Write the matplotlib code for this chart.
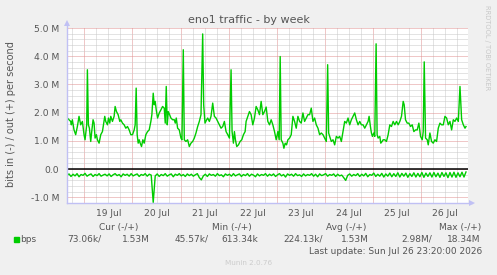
import numpy as np
import pandas as pd
import matplotlib
matplotlib.use('Agg')
import matplotlib.pyplot as plt
from matplotlib.patches import Rectangle

W, H = 497, 275

# hours after 2026-07-18 15:20 and outgoing traffic in Mbit/s
out_hours = [0.17, 1.0, 1.83, 2.17, 2.67, 3.5, 4.33, 5.17, 6.0, 6.83, 7.67, 8.5, 9.0, 9.83, 10.17,
             10.67, 11.17, 11.83, 12.33, 13.0, 13.5, 14.0, 14.67, 15.17, 16.0, 16.83, 17.67, 18.17,
             18.83, 19.33, 20.17, 20.67, 21.33, 21.83, 22.67, 23.5, 24.0, 24.67, 25.5, 26.33, 26.83,
             27.67, 28.5, 29.33, 30.17, 31.0, 31.83, 32.67, 33.5, 34.0, 34.5, 35.0, 35.5, 36.0, 36.5,
             37.17, 37.83, 38.5, 39.33, 40.17, 41.0, 41.83, 42.33, 43.0, 43.5, 44.0, 44.5, 45.17,
             46.0, 46.83, 47.67, 48.5, 49.0, 49.5, 50.0, 50.5, 51.17, 51.83, 52.67, 53.5, 54.0, 54.5,
             55.17, 56.0, 56.83, 57.33, 58.0, 58.5, 59.33, 60.17, 61.0, 61.83, 62.67, 63.5, 64.33,
             65.17, 66.0, 66.83, 67.67, 68.17, 68.83, 69.67, 70.17, 71.0, 71.83, 72.67, 73.5, 74.33,
             75.17, 76.0, 76.83, 77.67, 78.5, 79.33, 80.17, 81.0, 81.83, 82.33, 83.0, 83.5, 84.0,
             84.67, 85.5, 86.33, 87.17, 88.0, 88.83, 89.33, 90.17, 91.0, 91.83, 92.67, 93.5, 94.33,
             95.17, 96.0, 96.83, 97.67, 98.5, 99.33, 100.17, 101.0, 101.83, 102.67, 103.5, 104.33,
             105.17, 105.83, 106.33, 106.83, 107.67, 108.17, 108.83, 109.5, 110.17, 111.0, 111.83,
             112.67, 113.5, 114.33, 115.17, 116.0, 116.83, 117.67, 118.5, 119.33, 120.17, 121.0,
             121.83, 122.67, 123.5, 124.33, 125.17, 126.0, 126.83, 127.67, 128.5, 129.33, 130.0,
             130.5, 131.0, 131.83, 132.67, 133.5, 134.33, 135.17, 136.0, 136.83, 137.67, 138.5,
             139.33, 140.17, 141.0, 141.83, 142.67, 143.5, 144.33, 145.17, 146.0, 146.83, 147.67,
             148.5, 149.33, 150.17, 150.67, 151.33, 151.83, 152.33, 153.0, 153.5, 154.17, 154.67,
             155.17, 156.0, 156.5, 157.17, 157.67, 158.5, 159.33, 160.17, 161.0, 161.83, 162.67,
             163.5, 164.33, 165.17, 166.0, 166.83, 167.67, 168.17, 168.83, 169.67, 170.5, 171.33,
             172.17, 173.0, 173.83, 174.67, 175.5, 176.33, 177.17, 177.67, 178.17, 178.83, 179.67,
             180.17, 181.0, 181.83, 182.67, 183.5, 184.33, 185.17, 186.0, 186.83, 187.67, 188.5,
             189.33, 190.17, 191.0, 191.83, 192.67, 193.5, 194.33, 195.17, 196.0, 196.83, 197.67,
             198.5, 199.0]
out_mbps = [1.81, 1.75, 1.69, 1.57, 1.75, 1.39, 1.22, 1.51, 1.87, 1.57, 1.69, 1.22, 1.04, 1.57, 3.52,
            1.57, 1.45, 0.98, 1.33, 1.75, 1.63, 1.10, 1.22, 1.04, 0.92, 1.22, 1.33, 1.57,
            1.87, 1.69, 1.57, 1.81, 1.63, 1.87, 1.69, 1.87, 2.22, 2.04, 1.93, 1.69, 1.75,
            1.63, 1.57, 1.45, 1.51, 1.39, 1.22, 1.22, 1.39, 1.57, 2.87, 1.22, 0.92, 1.04, 0.92,
            0.80, 1.04, 0.92, 1.22, 1.33, 1.39, 1.69, 1.93, 2.69, 2.28, 2.40, 2.10, 1.81,
            1.99, 2.10, 2.22, 2.16, 1.63, 2.93, 1.57, 2.04, 1.93, 1.81, 1.75, 1.75, 1.63, 1.81,
            1.45, 1.39, 1.10, 1.04, 4.23, 1.04, 0.98, 1.04, 0.80, 0.92, 0.98, 1.10, 1.28,
            1.51, 1.69, 1.93, 4.79, 2.28, 1.63, 1.75, 1.81, 1.69, 1.87, 2.34, 1.87, 1.81,
            1.69, 1.57, 1.45, 1.51, 1.69, 1.33, 1.22, 1.10, 3.52, 1.33, 0.92, 1.33, 1.04,
            0.80, 0.86, 0.98, 1.04, 1.22, 1.33, 1.69, 1.87, 2.04, 1.93, 1.57, 1.81, 2.22,
            2.10, 1.93, 2.40, 1.93, 2.04, 2.20, 1.69, 1.57, 1.75, 1.57, 1.33, 1.04,
            1.33, 1.04, 3.99, 1.04, 0.92, 0.74, 0.92, 0.86, 1.04, 1.10, 1.22,
            1.87, 1.69, 1.45, 1.87, 1.69, 1.63, 1.99, 1.69, 1.81, 1.93, 1.93,
            2.16, 1.69, 1.81, 1.57, 1.45, 1.22, 1.28, 1.22, 1.10, 0.98, 3.70,
            1.28, 1.16, 0.98, 1.04, 0.86, 1.16, 1.10, 1.16, 0.98, 1.33, 1.69,
            1.63, 1.81, 1.57, 1.75, 1.87, 1.99, 1.75, 1.57, 1.69, 1.57, 1.57,
            1.45, 1.57, 1.69, 1.87, 1.51, 1.28, 1.16, 1.28, 1.16, 4.44, 1.22,
            1.10, 1.16, 0.92, 0.98, 1.04, 1.04, 0.98, 1.22, 1.57, 1.51, 1.69,
            1.57, 1.69, 1.57, 1.69, 1.87, 2.40, 2.28, 1.75, 1.63, 1.63, 1.51,
            1.57, 1.33, 1.39, 1.39, 1.63, 1.16, 1.04, 1.33, 3.80, 1.10, 1.04,
            0.86, 1.28, 0.98, 0.92, 1.04, 0.98, 1.45, 1.63, 1.57, 1.57, 1.87,
            1.81, 1.57, 1.69, 1.39, 1.75, 1.69, 1.81, 1.69, 2.93, 1.75, 1.57,
            1.45, 1.51]

# incoming traffic, one sample per hour, drawn below zero
in_mbps = [-0.22, -0.17, -0.26, -0.18, -0.24, -0.16, -0.27, -0.19, -0.22, -0.15, -0.25, -0.20, -0.17, -0.26, -0.19, -0.23, -0.16, -0.25, -0.21, -0.18,
           -0.24, -0.17, -0.26, -0.20, -0.16, -0.23, -0.19, -0.27, -0.17, -0.22, -0.18, -0.25, -0.16, -0.24, -0.20, -0.17, -0.26, -0.19, -0.22, -0.16,
           -0.25, -0.18, -0.21, -1.18, -0.24, -0.17, -0.26, -0.19, -0.23, -0.16, -0.25, -0.20, -0.17, -0.27, -0.18, -0.22, -0.16, -0.24, -0.19, -0.26,
           -0.17, -0.23, -0.18, -0.25, -0.20, -0.16, -0.30, -0.38, -0.24, -0.18, -0.26, -0.17, -0.22, -0.19, -0.25, -0.16, -0.23, -0.20, -0.27, -0.17,
           -0.22, -0.18, -0.25, -0.16, -0.24, -0.20, -0.17, -0.26, -0.19, -0.23, -0.16, -0.25, -0.18, -0.21, -0.27, -0.17, -0.24, -0.19, -0.22, -0.16,
           -0.25, -0.18, -0.23, -0.17, -0.26, -0.20, -0.16, -0.24, -0.19, -0.28, -0.17, -0.22, -0.18, -0.25, -0.16, -0.23, -0.20, -0.26, -0.17, -0.24,
           -0.19, -0.22, -0.16, -0.25, -0.18, -0.27, -0.17, -0.23, -0.20, -0.16, -0.25, -0.19, -0.22, -0.17, -0.26, -0.18, -0.24, -0.21, -0.30, -0.40,
           -0.22, -0.17, -0.25, -0.19, -0.23, -0.16, -0.26, -0.18, -0.24, -0.15, -0.27, -0.19, -0.22, -0.14, -0.26, -0.18, -0.25, -0.15, -0.28, -0.17,
           -0.25, -0.14, -0.27, -0.16, -0.26, -0.13, -0.28, -0.15, -0.25, -0.14, -0.29, -0.16, -0.26, -0.13, -0.28, -0.15, -0.27, -0.12, -0.29, -0.14,
           -0.26, -0.13, -0.28, -0.12, -0.27, -0.14, -0.29, -0.12, -0.26, -0.13, -0.30, -0.12, -0.28, -0.11, -0.29, -0.13, -0.27, -0.11, -0.28, -0.10]

legend_heads = ['Cur (-/+)', 'Min (-/+)', 'Avg (-/+)', 'Max (-/+)']
legend_values = ['73.06k/', '1.53M', '45.57k/', '613.34k', '224.13k/', '1.53M', '2.98M/', '18.34M']

GREEN = '#00CC00'
TXT = '#555555'


def fx(x):
    return x / W


def fy(y):
    return 1 - y / H


t0 = pd.Timestamp('2026-07-18 15:20')
t_out = t0 + pd.to_timedelta(out_hours, unit='h')
t_in = t0 + pd.to_timedelta(np.arange(len(in_mbps)), unit='h')
t_end = t0 + pd.Timedelta(hours=200)

fig = plt.figure(figsize=(W / 100, H / 100), dpi=100, facecolor='#F0F0F0')
ax = fig.add_axes([fx(67), fy(203), fx(468 - 67), (203 - 28) / H])
ax.set_facecolor('white')

# grid
for t in pd.date_range('2026-07-18 18:00', '2026-07-26 18:00', freq='6h'):
    if t.hour == 0:
        ax.axvline(t, color='#E09090', lw=0.72, ls=(0, (1, 1)), zorder=1)
    else:
        ax.axvline(t, color='#C8C8C8', lw=0.72, ls=(0, (1, 1)), zorder=1)
for v in np.round(np.arange(-1.2, 5.01, 0.2), 1):
    if abs(v - round(v)) < 1e-6:
        ax.axhline(v, color='#E09090', lw=0.72, ls=(0, (1, 1)), zorder=1)
    else:
        ax.axhline(v, color='#C8C8C8', lw=0.72, ls=(0, (1, 1)), zorder=1)

ax.plot(t_out, out_mbps, color=GREEN, lw=1.0, zorder=3)
ax.plot(t_in, in_mbps, color=GREEN, lw=1.0, zorder=3)
ax.axhline(0, color='black', lw=1.1, zorder=4)

ax.set_xlim(t0, t_end)
ax.set_ylim(-1.2, 5.0)

for s in ax.spines.values():
    s.set_visible(False)

# axis lines with arrows
axis_col = '#C0C0F4'
fig.add_artist(plt.Line2D([fx(67), fx(67)], [fy(203), fy(23)], color=axis_col, lw=1.0))
fig.add_artist(plt.Line2D([fx(67), fx(472)], [fy(203), fy(203)], color=axis_col, lw=1.0))
fig.add_artist(plt.Line2D([fx(67)], [fy(23)], marker='^', ms=4.5, color=axis_col, mew=0))
fig.add_artist(plt.Line2D([fx(472)], [fy(203)], marker='>', ms=4.5, color=axis_col, mew=0))

yt = [-1, 0, 1, 2, 3, 4, 5]
ax.set_yticks(yt)
ax.set_yticklabels(['0.0' if v == 0 else '%.1f M' % v for v in yt])
noons = pd.date_range('2026-07-19 12:00', '2026-07-26 12:00', freq='D')
ax.set_xticks(noons)
ax.set_xticklabels(['%d %s' % (t.day, t.strftime('%b')) for t in noons])
ax.tick_params(axis='both', length=0, labelsize=6.6, labelcolor=TXT)
ax.tick_params(axis='y', pad=5.5)
ax.tick_params(axis='x', pad=4)

fig.text(fx(249), fy(20), 'eno1 traffic - by week', ha='center', va='center', fontsize=8, color=TXT)
fig.text(fx(11), fy(114), 'bits in (-) / out (+) per second', rotation=90, ha='center', va='center',
         fontsize=7, color=TXT)
fig.text(fx(487), fy(5), 'RRDTOOL / TOBI OETIKER', rotation=270, ha='center', va='top',
         fontsize=4.8, color='#C8C8C8')

heads_x = [99, 212, 326, 439]
for x, s in zip(heads_x, legend_heads):
    fig.text(fx(x), fy(227.5), s, ha='left', va='center', fontsize=6.5, color=TXT)

fig.add_artist(Rectangle((fx(14), fy(242)), 5.3 / W, 5.3 / H, color=GREEN, transform=fig.transFigure))
fig.text(fx(20.5), fy(239.5), 'bps', ha='left', va='center', fontsize=6.5, color=TXT)
vals_x = [67, 122, 175, 221, 283, 341, 401, 447]
for x, s in zip(vals_x, legend_values):
    fig.text(fx(x), fy(239.5), s, ha='left', va='center', fontsize=6.5, color=TXT)

fig.text(fx(482), fy(251), 'Last update: Sun Jul 26 23:20:00 2026', ha='right', va='center',
         fontsize=6.5, color=TXT)
fig.text(fx(248.5), fy(263), 'Munin 2.0.76', ha='center', va='center', fontsize=5.2, color='#CCCCCC')

fig.savefig('out.png', dpi=100, facecolor=fig.get_facecolor())
